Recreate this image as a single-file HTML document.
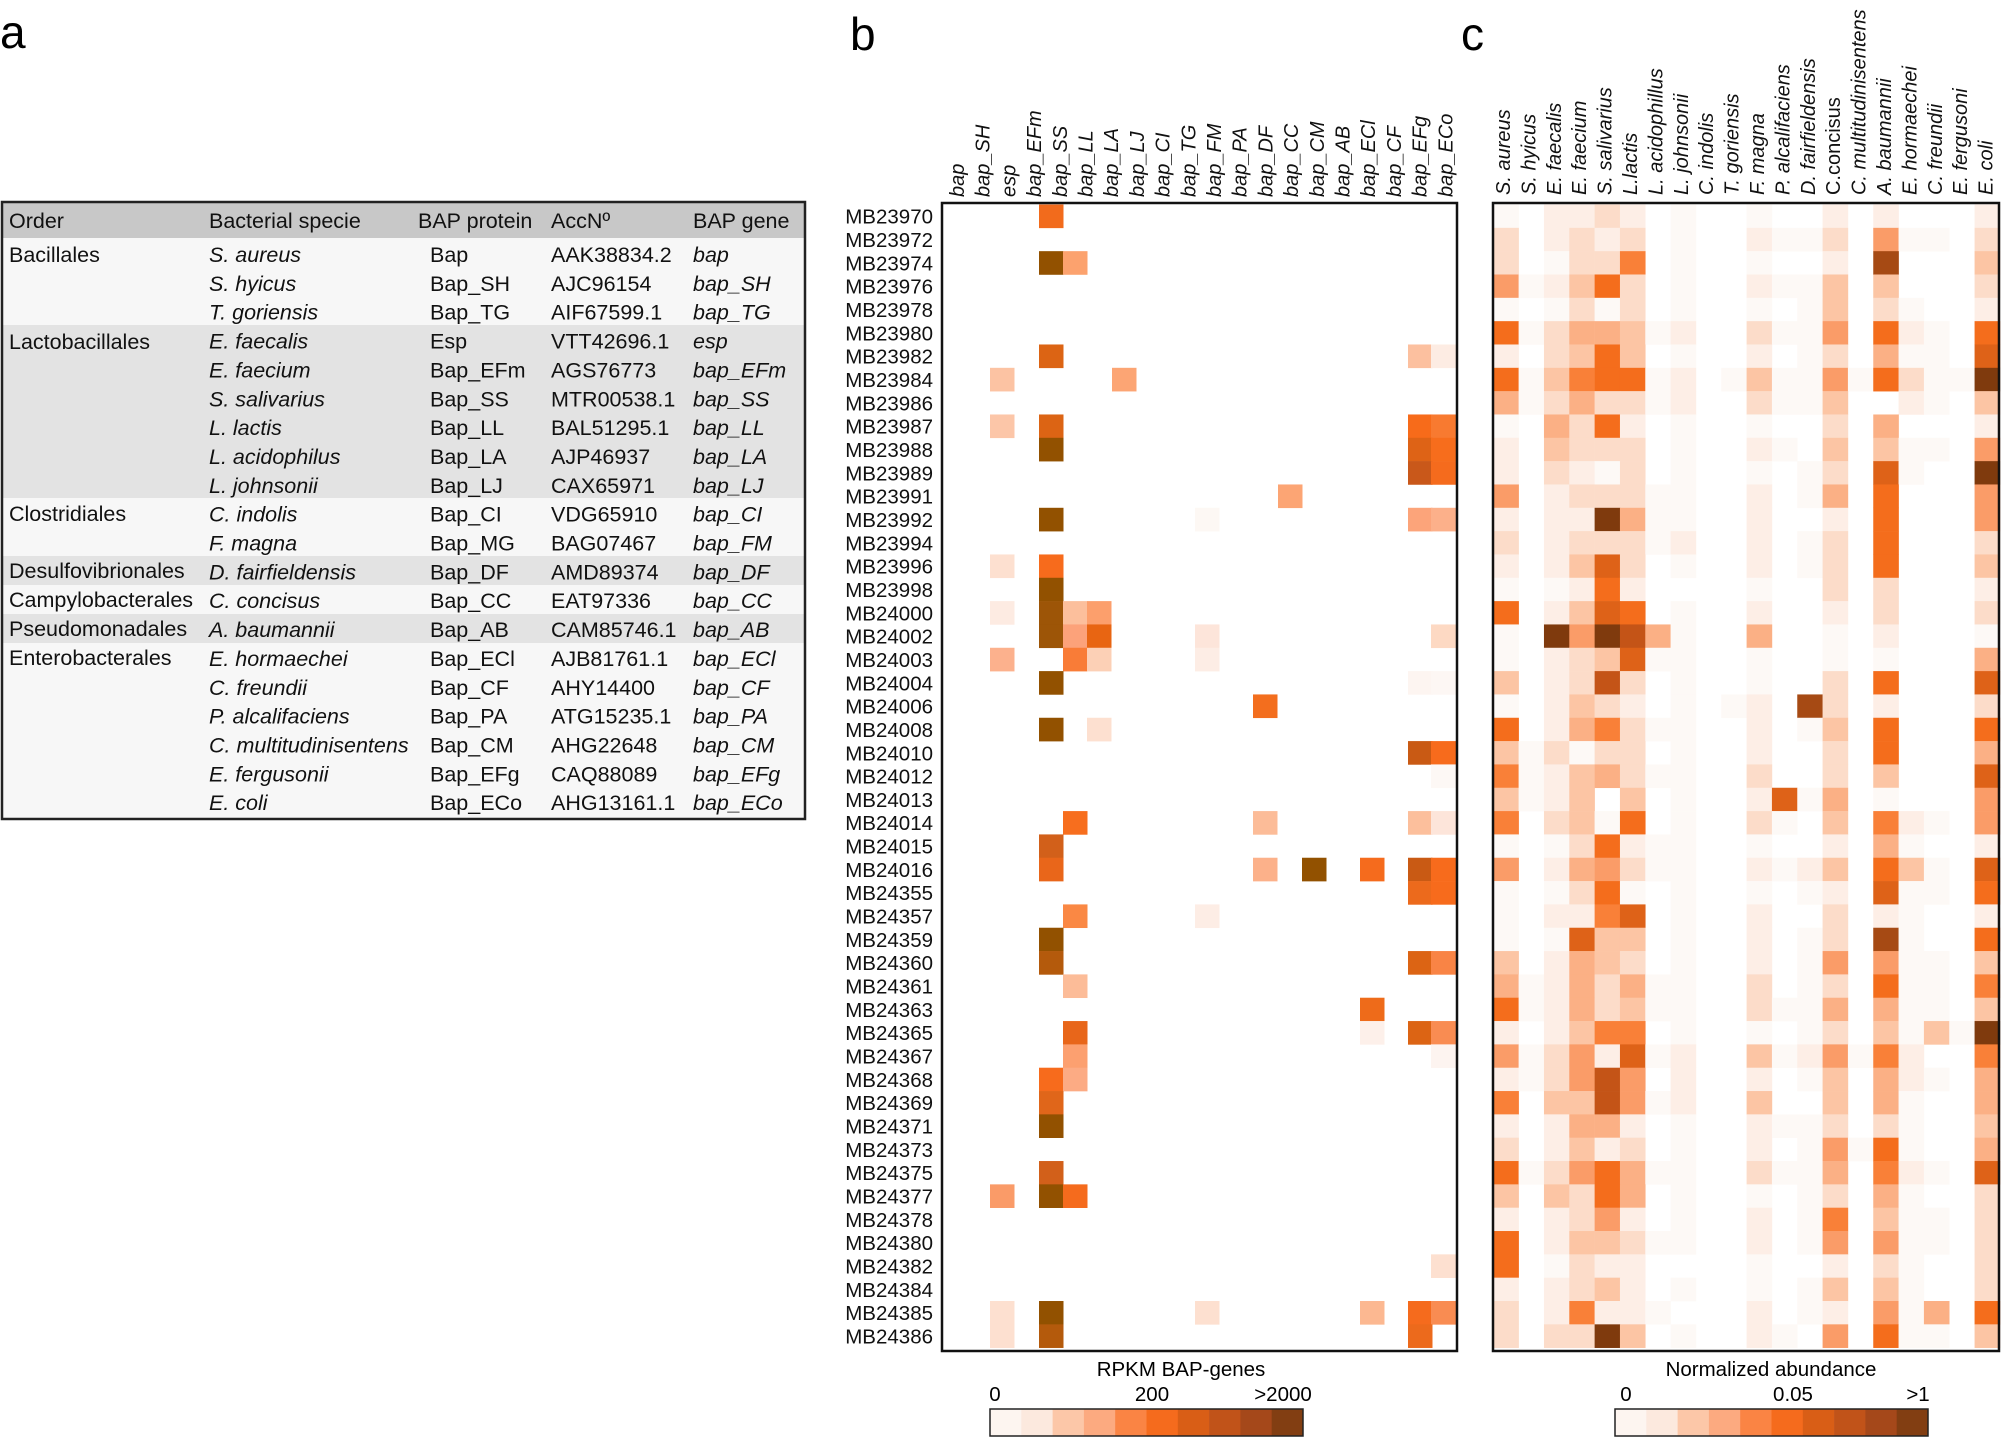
<!DOCTYPE html>
<html><head><meta charset="utf-8">
<style>
html,body{margin:0;padding:0;background:#fff;}
svg{display:block;font-family:"Liberation Sans",Arial,sans-serif;}
</style></head>
<body>
<svg id="s" width="2001" height="1437" viewBox="0 0 2001 1437" xmlns="http://www.w3.org/2000/svg">
<rect width="2001" height="1437" fill="#fff"/>
<text x="0" y="48" font-size="46">a</text>
<text x="850" y="50" font-size="46">b</text>
<text x="1461" y="50" font-size="46">c</text>

<g id="tbl">
<rect x="3" y="202" width="802" height="36" fill="#c8c8c8"/>
<rect x="3" y="238" width="802" height="87" fill="#f7f7f7"/>
<rect x="3" y="325" width="802" height="173" fill="#e3e3e3"/>
<rect x="3" y="498" width="802" height="58" fill="#f7f7f7"/>
<rect x="3" y="556" width="802" height="29" fill="#e3e3e3"/>
<rect x="3" y="585" width="802" height="29" fill="#f7f7f7"/>
<rect x="3" y="614" width="802" height="29" fill="#e3e3e3"/>
<rect x="3" y="643" width="802" height="175" fill="#f7f7f7"/>
<rect x="2" y="202" width="803" height="617" fill="none" stroke="#222" stroke-width="2.5"/>
<g font-size="21.5" fill="#111">
<text x="9" y="228">Order</text><text x="209" y="228">Bacterial specie</text><text x="418" y="228">BAP protein</text><text x="551" y="228">AccNº</text><text x="693" y="228">BAP gene</text>
<text x="9" y="262">Bacillales</text>
<text x="9" y="349">Lactobacillales</text>
<text x="9" y="521">Clostridiales</text>
<text x="9" y="578">Desulfovibrionales</text>
<text x="9" y="607">Campylobacterales</text>
<text x="9" y="636">Pseudomonadales</text>
<text x="9" y="665">Enterobacterales</text>
</g>
<g id="trows" font-size="21.5" fill="#111"></g>
</g>

<g id="bcells"></g>
<rect x="942" y="203" width="515" height="1148" fill="none" stroke="#111" stroke-width="2.5"/>
<g id="blabels" font-size="20" font-style="italic" fill="#111"></g>
<g id="rlabels" font-size="20.5" fill="#111" text-anchor="end"></g>
<text x="1181" y="1376" font-size="20.5" text-anchor="middle">RPKM BAP-genes</text>
<g font-size="20.5" text-anchor="middle"><text x="995" y="1401">0</text><text x="1152" y="1401">200</text><text x="1283" y="1401">&gt;2000</text></g>
<g id="blegend"></g>
<rect x="990" y="1409" width="313" height="27" fill="none" stroke="#222" stroke-width="1.5"/>

<g id="ccells"></g>
<rect x="1493" y="203" width="506" height="1148" fill="none" stroke="#111" stroke-width="2.5"/>
<g id="clabels" font-size="20" fill="#111"></g>
<text x="1771" y="1376" font-size="20.5" text-anchor="middle">Normalized abundance</text>
<g font-size="20.5" text-anchor="middle"><text x="1626" y="1401">0</text><text x="1793" y="1401">0.05</text><text x="1918" y="1401">&gt;1</text></g>
<g id="clegend"></g>
<rect x="1615" y="1409" width="313" height="27" fill="none" stroke="#222" stroke-width="1.5"/>
</svg>
<script>
var NS="http://www.w3.org/2000/svg";
function el(p,t,a,txt){var e=document.createElementNS(NS,t);for(var k in a)e.setAttribute(k,a[k]);if(txt!==undefined)e.textContent=txt;document.getElementById(p).appendChild(e);return e;}
var tr=[["S. aureus","Bap","AAK38834.2","bap"],["S. hyicus","Bap_SH","AJC96154","bap_SH"],["T. goriensis","Bap_TG","AIF67599.1","bap_TG"],["E. faecalis","Esp","VTT42696.1","esp"],["E. faecium","Bap_EFm","AGS76773","bap_EFm"],["S. salivarius","Bap_SS","MTR00538.1","bap_SS"],["L. lactis","Bap_LL","BAL51295.1","bap_LL"],["L. acidophilus","Bap_LA","AJP46937","bap_LA"],["L. johnsonii","Bap_LJ","CAX65971","bap_LJ"],["C. indolis","Bap_CI","VDG65910","bap_CI"],["F. magna","Bap_MG","BAG07467","bap_FM"],["D. fairfieldensis","Bap_DF","AMD89374","bap_DF"],["C. concisus","Bap_CC","EAT97336","bap_CC"],["A. baumannii","Bap_AB","CAM85746.1","bap_AB"],["E. hormaechei","Bap_ECl","AJB81761.1","bap_ECl"],["C. freundii","Bap_CF","AHY14400","bap_CF"],["P. alcalifaciens","Bap_PA","ATG15235.1","bap_PA"],["C. multitudinisentens","Bap_CM","AHG22648","bap_CM"],["E. fergusonii","Bap_EFg","CAQ88089","bap_EFg"],["E. coli","Bap_ECo","AHG13161.1","bap_ECo"]];
tr.forEach(function(r,i){var y=262+28.85*i;
el("trows","text",{x:209,y:y,"font-style":"italic"},r[0]);
el("trows","text",{x:430,y:y},r[1]);
el("trows","text",{x:551,y:y},r[2]);
el("trows","text",{x:693,y:y,"font-style":"italic"},r[3]);});
var bl=["bap","bap_SH","esp","bap_EFm","bap_SS","bap_LL","bap_LA","bap_LJ","bap_CI","bap_TG","bap_FM","bap_PA","bap_DF","bap_CC","bap_CM","bap_AB","bap_ECl","bap_CF","bap_EFg","bap_ECo"];
bl.forEach(function(t,i){var x=957+25.7*i+7;el("blabels","text",{x:x,y:197,transform:"rotate(-90 "+x+" 197)"},t);});
var rows=["MB23970","MB23972","MB23974","MB23976","MB23978","MB23980","MB23982","MB23984","MB23986","MB23987","MB23988","MB23989","MB23991","MB23992","MB23994","MB23996","MB23998","MB24000","MB24002","MB24003","MB24004","MB24006","MB24008","MB24010","MB24012","MB24013","MB24014","MB24015","MB24016","MB24355","MB24357","MB24359","MB24360","MB24361","MB24363","MB24365","MB24367","MB24368","MB24369","MB24371","MB24373","MB24375","MB24377","MB24378","MB24380","MB24382","MB24384","MB24385","MB24386"];
var RH=23.33,RT=204.5;
rows.forEach(function(t,i){el("rlabels","text",{x:933,y:RT+RH*i+RH/2+7.5},t);});
var X={esp:990,SS:1039,LL:1063,LA:1087,LJ:1112,PA:1195,DF:1253,CC:1278,CM:1302,CF:1360,EFg:1408,ECo:1431};
var W={ECo:26};
var D="#925100";
var bc=[[0,"SS","#f26b1c"],[2,"SS",D],[2,"LL","#fca26e"],[6,"SS","#dc6414"],[6,"EFg","#fcc09f"],[6,"ECo","#fdece3"],[7,"esp","#fcc3a3"],[7,"LJ","#fca574"],[9,"esp","#fcc6a8"],[9,"SS","#dc6414"],[9,"EFg","#f76b1a"],[9,"ECo","#f87a30"],[10,"SS",D],[10,"EFg","#de6316"],[10,"ECo","#f76d1c"],[11,"EFg","#c9581a"],[11,"ECo","#f56b1d"],[12,"CC","#fca574"],[13,"SS",D],[13,"PA","#fdf8f4"],[13,"EFg","#fca47a"],[13,"ECo","#fcb08a"],[15,"esp","#fde0d0"],[15,"SS","#f76b1c"],[16,"SS",D],[17,"esp","#fdebe2"],[17,"SS","#9d5507"],[17,"LL","#fcbf9c"],[17,"LA","#fc9f6c"],[18,"SS","#9d5507"],[18,"LL","#fca27a"],[18,"LA","#e86512"],[18,"PA","#fde5da"],[18,"ECo","#fdd9c3"],[19,"esp","#fcb18d"],[19,"LL","#f97c37"],[19,"LA","#fcd0b6"],[19,"PA","#fdede5"],[20,"SS",D],[20,"EFg","#fdf5f1"],[20,"ECo","#fdf7f4"],[21,"DF","#f36e1e"],[22,"SS",D],[22,"LA","#fde0d0"],[23,"EFg","#c95a14"],[23,"ECo","#f76b1c"],[24,"ECo","#fdf8f5"],[26,"LL","#f76e1e"],[26,"DF","#fcbc98"],[26,"EFg","#fcbf9c"],[26,"ECo","#fde5da"],[27,"SS","#d2601a"],[28,"SS","#e9661a"],[28,"DF","#fcb18a"],[28,"CM",D],[28,"CF","#f56b1d"],[28,"EFg","#c95a14"],[28,"ECo","#f76b1c"],[29,"EFg","#ec6a1c"],[29,"ECo","#f76b1c"],[30,"LL","#fa8844"],[30,"PA","#fdede5"],[31,"SS",D],[32,"SS","#b45a0c"],[32,"EFg","#dc6414"],[32,"ECo","#f98445"],[33,"LL","#fcbc98"],[34,"CF","#ee6b1a"],[35,"LL","#e8661a"],[35,"CF","#fdf0ea"],[35,"EFg","#dc6414"],[35,"ECo","#f98c52"],[36,"LL","#fca070"],[36,"ECo","#fdf4f0"],[37,"SS","#f76b1c"],[37,"LL","#fcab84"],[38,"SS","#e0661a"],[39,"SS",D],[41,"SS","#d2601a"],[42,"esp","#fa9b68"],[42,"SS",D],[42,"LL","#f56b1d"],[45,"ECo","#fde0d0"],[47,"esp","#fde0d0"],[47,"SS",D],[47,"PA","#fde0d0"],[47,"CF","#fcb891"],[47,"EFg","#f56b1d"],[47,"ECo","#f98c52"],[48,"esp","#fde0d0"],[48,"SS","#b45a0c"],[48,"EFg","#ec6a1c"]];
bc.forEach(function(c){el("bcells","rect",{x:X[c[1]],y:RT+RH*c[0],width:(W[c[1]]||24.5),height:RH+0.3,fill:c[2]});});
var lb=["#fdf5f0","#fce9de","#fcc7a8","#fcaa80","#fa8444","#f56b1d","#d95e16","#c15319","#a5481a","#823e12"];
lb.forEach(function(c,i){el("blegend","rect",{x:990+31.3*i,y:1409,width:31.6,height:27,fill:c});el("clegend","rect",{x:1615+31.3*i,y:1409,width:31.6,height:27,fill:c});});
var cl=[["S. aureus",1],["S. hyicus",1],["E. faecalis",1],["E. faecium",1],["S. salivarius",1],["L.lactis",1],["L. acidophillus",1],["L. johnsonii",1],["C. indolis",1],["T. goriensis",1],["F. magna",1],["P. alcalifaciens",1],["D. fairfieldensis",1],["C.concisus",0],["C. multitudinisentens",1],["A. baumannii",1],["E. hormaechei",1],["C. freundii",1],["E. fergusoni",1],["E. coli",1]];
cl.forEach(function(t,i){var x=1503+25.4*i+7;var a={x:x,y:195,transform:"rotate(-90 "+x+" 195)"};if(t[1])a["font-style"]="italic";el("clabels","text",a,t[0]);});
var P={"1":"#fdf9f6","2":"#fdeee6","3":"#fcdcc9","4":"#fcc5a4","5":"#fbb085","6":"#fa9c68","7":"#f98038","8":"#f46d1c","9":"#de6218","A":"#c45417","B":"#a64a14","C":"#7f3a0d"};
var G=[
"1 . 2 2 3 2 . 1 . . 1 . . 2 . 2 . . . 2",
"3 . 2 3 2 3 . 1 . . 2 1 1 3 . 6 1 1 . 3",
"3 . 1 3 3 7 . 1 . . 1 . . 2 . B . . . 4",
"6 1 2 4 8 3 . 1 . . 2 1 1 4 . 4 . . . 3",
"1 . 1 3 1 3 . 1 . . 1 . 1 4 . 3 1 . . 2",
"8 1 3 5 5 4 1 2 . . 3 1 1 6 . 8 2 1 . 8",
"2 . 3 4 8 4 . 1 . . 2 . 1 3 . 5 1 1 . 9",
"8 1 4 7 8 8 1 2 . 1 4 1 1 6 1 8 3 1 1 C",
"5 1 3 5 3 3 1 2 . . 3 1 1 4 . . 2 1 . 4",
"1 . 5 3 8 2 . 1 . . 1 . . 3 . 5 . . . 2",
"2 . 4 3 3 3 . 1 . . 2 1 . 4 . 4 1 1 . 6",
"2 . 3 2 1 3 . 1 . . 1 . 1 3 . 9 1 . . C",
"6 . 2 3 3 3 1 1 . . 2 . 1 5 . 8 . . . 6",
"2 . 2 2 C 5 1 1 . . 2 . . 2 . 8 . . . 6",
"3 . 2 3 3 3 1 2 . . 2 . 1 3 . 8 . . . 3",
"2 . 2 4 9 3 . 1 . . 2 . 1 3 . 8 . . . 4",
"1 . 1 2 8 2 . . . . 1 . . 3 . 3 . . . 2",
"8 . 2 4 9 8 . 1 . . 2 . . 2 . 3 . . . 3",
"1 . C 6 C A 5 1 . . 5 . . 1 . 2 . . . 1",
"1 . 2 3 4 9 1 1 . . 1 . . 1 . 1 . . . 5",
"4 . 2 3 A 3 . 1 . . 1 . . 3 . 8 . . . 9",
"1 . 2 4 3 2 . 1 . 1 2 . B 3 . 2 . . . 3",
"8 . 2 5 7 3 1 1 . . 2 . 1 4 . 8 . . . 8",
"4 1 3 1 3 3 . 1 . . 2 . . 3 . 8 . . . 5",
"7 1 2 4 5 3 1 1 . . 3 . . 3 . 4 . . . 9",
"4 1 2 4 . 4 . 1 . . 2 9 1 5 . 1 . . . 6",
"7 . 3 4 1 8 . 1 . . 3 1 . 4 . 7 2 1 . 6",
"1 . 1 3 8 2 1 1 . . 1 . . 2 . 5 1 . . 2",
"6 . 2 5 6 3 1 1 . . 2 1 2 4 . 8 4 1 . 9",
"1 . 1 3 8 1 . 1 . . 1 . 1 2 . 9 1 1 . 8",
"1 . 2 2 7 9 . 1 . . 2 . . 3 . 2 1 . . 2",
"1 . 1 9 4 4 . 1 . . 2 . 1 3 . B 1 . . 8",
"4 . 2 5 4 3 . 1 . . 2 . 1 6 . 6 1 1 . 4",
"5 1 2 5 3 5 1 1 . . 3 . 1 3 . 8 1 1 . 7",
"8 1 2 5 3 4 1 1 . . 3 1 1 5 . 5 1 1 . 4",
"2 . 2 4 7 7 . 1 . . 1 . 1 3 . 4 1 4 1 C",
"6 1 3 6 2 9 1 2 . . 4 1 2 6 1 7 2 . . 7",
"2 1 3 6 A 6 . 2 . . 2 . 1 4 . 5 2 1 . 5",
"7 . 4 4 A 6 1 2 . . 4 . . 4 . 5 1 . . 5",
"2 . 2 5 5 2 . 1 . . 2 1 1 3 . 3 1 . . 4",
"3 . 2 4 2 3 . 1 . . 2 . 1 6 1 8 1 . . 5",
"8 1 3 6 8 5 1 1 . . 3 1 1 5 . 7 2 1 . 9",
"4 . 4 3 8 5 . 1 . . 1 . 1 3 . 5 1 . . 3",
"2 . 2 3 6 2 . 1 . . 2 . 1 7 . 4 1 1 . 3",
"8 . 2 4 4 3 1 1 . . 2 . 1 6 . 6 1 1 . 3",
"8 . 1 3 2 2 . . . . 1 . . 2 . 3 1 . . 3",
"2 . 2 3 4 2 . 1 . . 1 . 1 4 . 4 1 . . 3",
"3 . 2 7 2 2 1 . . . 2 . 1 2 . 6 1 5 . 8",
"3 . 3 3 C 4 . 1 . . 2 1 . 6 . 8 1 1 . 4"];
G.forEach(function(r,i){
  var t=r.split(" ");
  for(var c=0;c<20;c++){var ch=t[c];if(P[ch])el("ccells","rect",{x:1493.3+25.33*c,y:RT+RH*i,width:25.6,height:RH+0.3,fill:P[ch]});}
});
</script>
</body></html>
